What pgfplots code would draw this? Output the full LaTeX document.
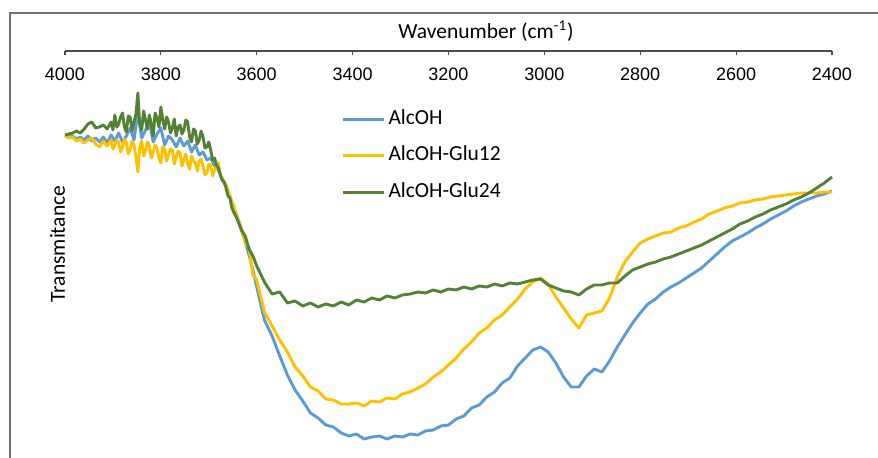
\documentclass[border=0pt]{standalone}
\usepackage{pgfplots}
\pgfplotsset{compat=1.18}
\usepackage{pgfplotstable}
\usepackage{fontspec}
\setmainfont{Carlito}
\newfontfamily\arialfont{Liberation Sans}
\definecolor{cblue}{HTML}{5B9BD5}
\definecolor{cyellow}{HTML}{FFC000}
\definecolor{cgreen}{HTML}{548235}

\pgfplotstableread{
w v
4000 323
3992 321
3984 322
3976 319
3968 321
3960 318
3952 322
3944 317
3936 320
3928 316
3920 321
3912 315
3904 323
3896 317
3888 325
3880 316
3872 322
3864 330
3856 318
3848 346
3840 320
3832 328
3824 336
3816 316
3808 324
3800 330
3792 313
3784 322
3776 318
3768 311
3760 320
3752 312
3744 317
3736 306
3728 313
3720 303
3712 306
3704 298
3696 300
3688 292
3680 288
3672 278
3664 272
3656 262
3648 250
3640 240
3632 228
3624 216
3616 203
3608 188
3600 171
3584 138
3568 122
3552 102
3536 83
3520 68
3504 57
3488 45
3472 40
3456 33
3440 31
3424 25
3408 22
3392 24
3376 19
3360 21
3344 22
3328 19
3312 22
3296 21
3280 24
3264 23
3248 27
3232 28
3216 32
3200 33
3184 39
3168 42
3152 50
3136 53
3120 61
3104 66
3088 75
3072 80
3056 92
3040 100
3024 108
3008 111
2992 106
2976 95
2960 81
2944 71
2928 71
2912 82
2896 89
2880 86
2864 97
2848 111
2832 123
2816 135
2800 145
2784 154
2768 159
2752 166
2736 171
2720 175
2704 180
2688 185
2672 190
2656 197
2640 204
2624 211
2608 217
2592 221
2576 225
2560 230
2544 234
2528 239
2512 243
2496 247
2480 252
2464 256
2448 259
2432 262
2416 264
2400 267
}\alcoh

\pgfplotstableread{
w v
4000 322
3992 320
3984 321
3976 317
3968 319
3960 315
3952 318
3944 320
3936 314
3928 311
3920 317
3912 312
3904 318
3900 309
3896 313
3892 318
3888 316
3884 306
3880 311
3876 319
3872 315
3868 304
3864 309
3860 317
3856 313
3852 301
3848 286
3844 311
3840 317
3836 302
3832 308
3828 316
3824 312
3820 300
3816 306
3812 313
3808 310
3804 300
3800 295
3796 311
3792 309
3788 297
3784 303
3780 309
3776 308
3772 294
3768 301
3764 307
3760 305
3756 292
3752 298
3748 304
3744 294
3740 289
3736 302
3732 297
3728 295
3724 287
3720 297
3716 299
3712 292
3708 283
3704 285
3700 294
3696 293
3692 282
3688 288
3684 291
3680 295
3676 283
3672 280
3664 273
3656 262
3648 252
3640 240
3632 230
3624 215
3616 210
3608 183
3600 178
3584 146
3568 132
3552 118
3536 106
3520 91
3504 82
3488 71
3472 67
3456 59
3440 58
3424 54
3408 54
3392 55
3376 52
3360 57
3344 56
3328 60
3312 59
3296 64
3280 66
3264 70
3248 74
3232 81
3216 86
3200 93
3184 100
3168 109
3152 116
3136 125
3120 130
3104 138
3088 143
3072 151
3056 159
3040 169
3024 176
3008 180
2992 174
2976 161
2960 150
2944 139
2928 130
2912 143
2896 145
2880 147
2864 160
2848 181
2832 196
2816 206
2800 215
2784 219
2768 222
2752 225
2736 226
2720 230
2704 232
2688 236
2672 239
2656 244
2640 247
2624 250
2608 252
2592 255
2576 256
2560 258
2544 259
2528 261
2512 262
2496 263
2480 264
2464 265
2448 265
2432 265
2416 266
2400 266
}\glutwelve

\pgfplotstableread{
w v
4000 323
3992 324
3984 325
3976 327
3968 325
3960 329
3952 334
3944 336
3936 330
3928 331
3920 333
3912 329
3904 336
3900 328
3896 343
3892 331
3888 334
3884 341
3880 345
3876 331
3872 326
3868 342
3864 341
3860 327
3856 336
3852 344
3848 365
3844 333
3840 328
3836 347
3832 338
3828 329
3824 343
3820 334
3816 322
3812 345
3808 340
3804 331
3800 351
3796 338
3792 329
3788 341
3784 336
3780 325
3776 330
3772 339
3768 322
3764 331
3760 333
3756 324
3752 328
3748 338
3744 336
3740 321
3736 316
3732 329
3728 327
3724 314
3720 318
3716 327
3712 321
3708 310
3704 311
3700 316
3696 308
3692 298
3688 300
3684 293
3680 290
3676 283
3672 278
3668 276
3664 270
3660 262
3656 260
3652 250
3648 246
3640 238
3632 228
3624 222
3616 209
3608 202
3600 192
3584 176
3568 164
3552 166
3536 155
3520 157
3504 152
3488 155
3472 151
3456 154
3440 152
3424 156
3408 153
3392 158
3376 156
3360 160
3344 158
3328 162
3312 160
3296 163
3280 164
3264 166
3248 165
3232 168
3216 166
3200 169
3184 168
3168 171
3152 169
3136 172
3120 171
3104 174
3088 172
3072 175
3056 174
3040 176
3024 178
3008 179
2992 173
2976 170
2960 167
2944 166
2928 163
2912 169
2896 173
2880 173
2864 175
2848 175
2832 182
2816 188
2800 191
2784 194
2768 196
2752 199
2736 201
2720 204
2704 207
2688 210
2672 213
2656 217
2640 221
2624 225
2608 229
2592 234
2576 237
2560 241
2544 244
2528 248
2512 251
2496 254
2480 258
2464 261
2448 265
2432 270
2416 275
2400 281
}\glutwentyfour

\begin{document}
\begin{tikzpicture}
\useasboundingbox (-32.5pt,0pt) rectangle (406.5pt,229pt);
\draw[black!55, line width=0.9pt] (-27.5pt,-5pt) -- (-27.5pt,222.5pt) -- (420pt,222.5pt);
\begin{axis}[
  at={(0pt,0pt)}, anchor=south west,
  scale only axis, width=383.5pt, height=203.5pt,
  x dir=reverse, xmin=2400, xmax=4000, ymin=0, ymax=407,
  axis x line*=top, axis y line*=left,
  y axis line style={draw=none},
  x axis line style={black!70, line width=0.75pt},
  ytick=\empty,
  xtick={2400,2600,...,4000},
  tick align=inside, major tick length=2pt,
  every tick/.style={black!70, line width=0.6pt},
  /pgf/number format/assume math mode=true,
  /pgf/number format/set thousands separator={},
  xticklabel style={font=\arialfont\fontsize{9}{10}\selectfont, anchor=north, yshift=-4.75pt},
  xlabel={Wavenumber (cm\textsuperscript{-1})},
  xlabel style={at={(axis description cs:0.549,1)}, anchor=base, yshift=6.25pt, font=\fontsize{10.75}{12}\selectfont},
  ylabel={Transmitance},
  ylabel style={at={(axis description cs:0,0.533)}, anchor=base, xshift=-1.5pt, font=\fontsize{10.75}{12}\selectfont},
  legend cell align=left,
  legend style={at={(axis description cs:0.36,0.855)}, anchor=north west, draw=none, fill=none, inner sep=0pt, row sep=9.25pt, column sep=1.5pt, font=\fontsize{10.75}{12}\selectfont, nodes={inner sep=0pt, text height=7pt, text depth=2pt}},
  legend image code/.code={\draw[#1, line width=1.5pt] (0pt,0pt) -- (20.5pt,0pt);},
  clip=false,
]
\addplot[cblue, line width=1.45pt, line join=round] table[x=w, y=v] {\alcoh};
\addlegendentry{AlcOH}
\addplot[cyellow, line width=1.45pt, line join=round] table[x=w, y=v] {\glutwelve};
\addlegendentry{AlcOH-Glu12}
\addplot[cgreen, line width=1.45pt, line join=round] table[x=w, y=v] {\glutwentyfour};
\addlegendentry{AlcOH-Glu24}
\end{axis}
\end{tikzpicture}
\end{document}
